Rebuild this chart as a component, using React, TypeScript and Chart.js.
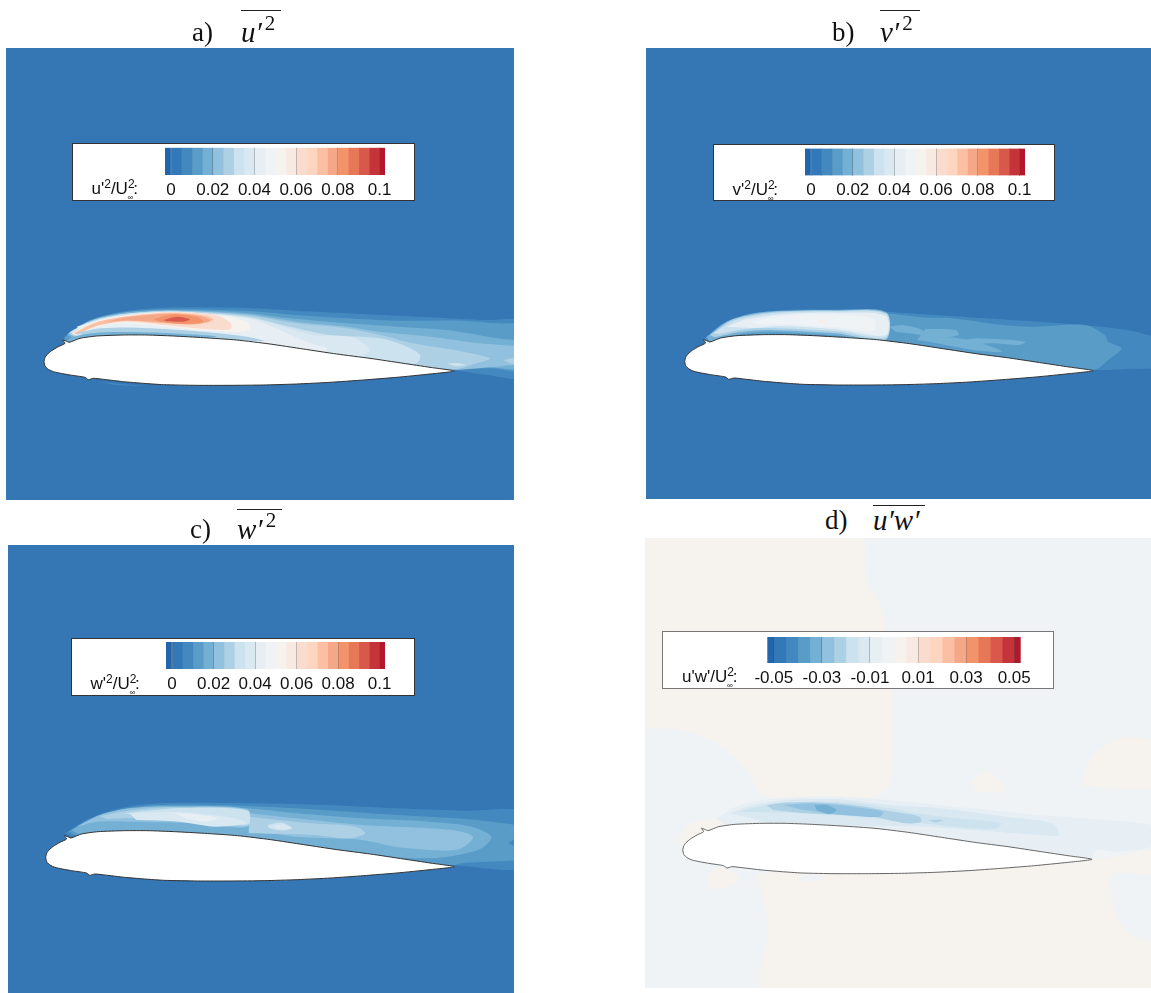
import React, { useEffect, useRef } from "react";
import { Chart, registerables } from "chart.js";

Chart.register(...registerables);

type Pts = number[][];

// Discrete contour levels, lowest to highest
const bandColors = ["#2166ac", "#3379b7", "#4388bf", "#5a9cc8", "#74b0d4", "#91c1df", "#add0e5", "#cce2ef", "#d9e8f1", "#e7eff5", "#f0f3f6", "#f6f2ee", "#f8eae3", "#fadccf", "#fed5bf", "#fbbfa4", "#f5a887", "#f3936a", "#e77857", "#d8594c", "#c4343a", "#b2182b"];
const positiveEdges = [-0.0029, 0, 0.005, 0.01, 0.015, 0.02, 0.025, 0.03, 0.035, 0.04, 0.045, 0.05, 0.055, 0.06, 0.065, 0.07, 0.075, 0.08, 0.085, 0.09, 0.095, 0.1, 0.1026];
const signedEdges = [-0.0527, -0.05, -0.045, -0.04, -0.035, -0.03, -0.025, -0.02, -0.015, -0.01, -0.005, 0, 0.005, 0.01, 0.015, 0.02, 0.025, 0.03, 0.035, 0.04, 0.045, 0.05, 0.0527];
const positiveTicks = [0, 0.02, 0.04, 0.06, 0.08, 0.1];
const signedTicks = [-0.05, -0.03, -0.01, 0.01, 0.03, 0.05];

// Coordinates in chord/1231 from the leading edge (x) and the trailing edge height (y)
const airfoil: Pts = [[0,28],[3,40],[10,50],[23,61],[43,73],[63,83],[56,93],[66,90],[76,86],[108,98],[158,105],[238,108],[308,108],[388,105],[478,100],[578,93],[678,81],[778,66],[878,51],[978,38],[1078,23],[1158,11],[1231,0],[1158,-9],[1058,-19],[958,-27],[858,-34],[758,-39],[658,-42],[558,-43],[458,-43],[358,-41],[298,-37],[238,-32],[178,-25],[148,-22],[133,-26],[123,-19],[78,-12],[50,-7],[28,-2],[13,5],[3,15],[0,28]];

// u'u' contours
const a1: Pts = [[58,98],[108,138],[188,168],[288,185],[408,191],[608,189],[758,181],[958,171],[1158,161],[1308,153],[1470,143],[1470,-17],[1308,-9],[1231,2],[700,30],[200,40],[60,60]];
const a2: Pts = [[63,103],[128,148],[218,173],[358,185],[598,181],[758,168],[908,158],[1058,151],[1258,151],[1358,143],[1470,133],[1470,3],[1338,8],[1231,4],[700,30],[200,40],[60,60]];
const a3: Pts = [[68,108],[138,151],[238,175],[378,183],[598,175],[738,158],[908,143],[1058,133],[1208,123],[1358,98],[1470,78],[1470,11],[1308,11],[1231,4],[700,30],[200,40]];
const a3b: Pts = [[73,113],[148,153],[258,173],[388,181],[608,170],[758,148],[908,133],[1008,118],[1158,103],[1308,83],[1410,75],[1470,70],[1470,20],[1410,18],[1298,8],[1231,4],[700,30],[200,40]];
const a4: Pts = [[73,113],[148,153],[258,173],[388,181],[608,168],[758,143],[908,128],[1008,108],[1108,83],[1258,58],[1338,38],[1298,23],[1231,6],[700,30],[200,40]];
const a4b: Pts = [[1378,33],[1470,48],[1470,23],[1400,22]];
const a5: Pts = [[78,118],[158,153],[258,173],[388,178],[608,163],[738,133],[858,108],[1008,98],[1088,73],[1128,48],[1118,23],[1058,28],[700,30],[200,40]];
const a6: Pts = [[88,123],[168,155],[268,171],[388,177],[608,161],[718,133],[808,108],[918,103],[958,83],[978,60],[920,35],[700,30],[200,40]];
const a6b: Pts = [[1208,22],[1240,24],[1265,18],[1235,14]];
const a7: Pts = [[98,133],[178,157],[278,170],[388,176],[608,158],[708,123],[758,100],[808,80],[850,65],[800,40],[700,40],[200,40]];
const a8: Pts = [[83,113],[158,148],[258,168],[388,178],[518,168],[608,148],[618,128],[598,118],[498,120],[358,133],[248,143],[158,133],[93,108]];
const a9: Pts = [[158,148],[258,166],[388,177],[518,167],[560,143],[560,125],[498,125],[358,138],[248,148],[170,140]];
const a10: Pts = [[88,113],[158,146],[258,165],[388,174],[488,165],[508,153],[458,140],[358,143],[248,150],[158,135],[100,110]];
const a11: Pts = [[178,147],[258,163],[388,172],[478,163],[498,150],[440,140],[340,147],[250,152]];
const a12: Pts = [[328,155],[388,170],[458,163],[478,148],[428,141],[348,148]];
const a13: Pts = [[358,153],[398,163],[438,155],[418,148],[368,149]];
const a14: Pts = [[100,115],[170,128],[280,130],[450,120],[600,104],[660,90],[500,95],[280,105],[130,100]];
const a15: Pts = [[63,88],[88,103],[158,115],[258,117],[408,112],[520,104],[458,98],[258,103],[108,93]];
const a16: Pts = [[158,-32],[228,-38],[298,-45],[218,-43]];

// v'v' contours
const b1: Pts = [[56,92],[116,142],[196,167],[296,182],[456,184],[606,177],[756,167],[956,154],[1136,142],[1336,122],[1396,107],[1450,90],[1450,17],[1330,5],[1226,2],[700,30],[200,40]];
const b2: Pts = [[61,97],[126,137],[206,165],[306,177],[456,180],[606,172],[716,160],[806,157],[956,137],[1056,132],[1206,137],[1266,107],[1276,87],[1316,67],[1276,32],[1246,7],[1226,2],[700,30],[200,40]];
const b3a: Pts = [[616,132],[656,137],[716,122],[721,107],[676,112],[636,117]];
const b3b: Pts = [[726,125],[816,122],[826,107],[756,97],[716,90],[700,92]];
const b3c: Pts = [[836,92],[886,97],[1026,87],[1006,77],[926,82],[856,77]];
const b3d: Pts = [[706,92],[800,100],[900,80],[956,57],[880,60]];
const b4: Pts = [[66,102],[126,147],[206,172],[296,180],[456,182],[608,175],[606,90],[456,106],[256,116],[156,108],[76,87]];
const b5: Pts = [[76,107],[136,150],[216,170],[296,178],[456,180],[608,172],[606,94],[456,112],[256,122],[166,116],[90,100]];
const b6: Pts = [[86,112],[146,150],[226,168],[306,176],[456,178],[608,170],[606,100],[456,118],[256,128],[176,124],[106,110]];
const b7: Pts = [[126,132],[186,154],[256,165],[336,172],[456,174],[606,164],[606,106],[456,124],[296,134],[206,128]];
const b8: Pts = [[200,146],[256,158],[356,168],[456,168],[570,155],[570,120],[456,130],[296,140],[236,138]];
const b9: Pts = [[400,150],[420,150],[425,145],[405,145]];

// w'w' contours
const c1: Pts = [[58,100],[123,140],[203,170],[303,188],[453,192],[653,190],[853,185],[1053,175],[1253,168],[1470,158],[1470,2],[1226,4],[700,30],[200,40]];
const c2: Pts = [[68,105],[143,145],[243,175],[353,185],[603,182],[753,175],[953,162],[1153,150],[1303,140],[1470,110],[1395,70],[1470,50],[1470,25],[1253,10],[1226,4],[700,30],[200,40]];
const c3: Pts = [[78,110],[153,150],[253,175],[373,182],[603,175],[753,160],[953,145],[1153,135],[1283,120],[1343,90],[1313,55],[1243,35],[1153,25],[1000,30],[700,30],[200,40]];
const c4: Pts = [[613,160],[753,145],[953,125],[1153,115],[1253,105],[1288,88],[1253,55],[1203,48],[1053,60],[953,80],[853,85],[753,90],[613,110]];
const c4f: Pts = [[93,120],[163,155],[253,175],[373,180],[608,172],[608,120],[453,130],[253,135],[153,135],[103,122]];
const c5: Pts = [[612,150],[803,130],[933,120],[963,100],[913,85],[803,95],[612,100]];
const c5f: Pts = [[163,152],[263,170],[383,178],[608,170],[608,123],[453,135],[263,145],[183,143]];
const c6: Pts = [[668,125],[713,132],[743,115],[713,108],[673,115]];
const c6f: Pts = [[233,160],[303,168],[420,176],[608,168],[610,127],[453,140],[303,150]];
const c7: Pts = [[253,160],[373,165],[453,160],[573,145],[603,130],[513,120],[403,135],[273,140]];
const c8: Pts = [[390,160],[440,158],[520,145],[480,135],[420,145]];
const c9: Pts = [[683,123],[713,127],[738,115],[700,112]];

// u'w' contours
const d0a: Pts = [[-120,970],[532,970],[552,838],[602,738],[632,488],[622,228],[572,188],[252,188],[192,268],[102,348],[-8,388],[-120,393]];
const d0b: Pts = [[867,233],[912,266],[952,238],[967,203],[882,203]];
const d0c: Pts = [[1197,223],[1232,308],[1312,363],[1420,348],[1420,218],[1272,213]];
const d0d: Pts = [[-13,58],[22,108],[102,118],[150,100],[100,60],[0,20]];
const d0e: Pts = [[222,-42],[1228,-2],[1420,23],[1420,-42],[1292,-47],[1302,-162],[1352,-232],[1420,-252],[1420,-400],[247,-400],[257,-212],[242,-112]];
const d0f: Pts = [[72,-52],[82,-87],[142,-82],[172,-52],[110,-20]];
const d0g: Pts = [[352,-62],[402,-67],[420,-50],[360,-45]];
const d1: Pts = [[102,123],[172,163],[292,183],[472,188],[672,173],[872,153],[1072,133],[1272,118],[1420,98],[1420,43],[1312,23],[1242,28],[1228,3],[700,30],[200,40]];
const d2: Pts = [[142,138],[212,163],[322,178],[472,180],[622,163],[772,153],[972,128],[1112,108],[1132,73],[1072,73],[872,88],[672,100],[300,100]];
const d3: Pts = [[172,143],[252,163],[372,173],[512,170],[622,153],[702,138],[822,123],[957,108],[942,93],[872,93],[722,108],[572,123],[372,138]];
const d4: Pts = [[252,163],[302,170],[392,171],[512,163],[602,148],[712,128],[717,113],[672,108],[572,128],[472,133],[372,138],[272,148]];
const d5: Pts = [[302,163],[392,168],[512,158],[602,143],[592,128],[522,130],[432,138],[352,150]];
const d6: Pts = [[397,163],[432,163],[462,148],[442,136],[402,148]];
const d7: Pts = [[737,118],[782,118],[762,110]];

const BG_BLUE = "#3576b5";
const c = bandColors;

const panels = [
  {
    frame: [6, 48, 508, 452], range: [-114, 1410, -387, 969], bg: BG_BLUE, outline: "#333",
    layers: [[a1,c[2]],[a2,c[3]],[a3,c[4]],[a3b,c[5]],[a4,c[6]],[a4b,c[6]],[a5,c[7]],[a6,c[8]],[a6b,c[7]],[a7,c[9]],[a8,c[11]],[a9,c[13]],[a10,c[15]],[a11,c[16]],[a12,c[17]],[a13,c[19]],[a14,c[6]],[a15,c[4]],[a16,c[2]]],
    box: [72, 143, 343, 58], bar: [165, 385, 147.7, 175], edges: positiveEdges, ticks: positiveTicks,
    sym: "u'", sym2: "2", labelLeft: 19.5, boxLine: "#333",
    title: ["a)", 192, 41, "u\u2032", 241, 281, 10],
  },
  {
    frame: [646, 48, 505, 451], range: [-116.6, 1405, -385, 968], bg: BG_BLUE, outline: "#333",
    layers: [[b1,c[2]],[b2,c[3]],[b3a,c[4]],[b3b,c[4]],[b3c,c[4]],[b3d,c[4]],[b4,c[4]],[b5,c[6]],[b6,c[7]],[b7,c[9]],[b8,c[10]],[b9,c[12]]],
    box: [713, 144, 342, 57], bar: [805, 1025, 148.5, 175.5], edges: positiveEdges, ticks: positiveTicks,
    sym: "v'", sym2: "2", labelLeft: 19.5, boxLine: "#333",
    title: ["b)", 832, 41, "v\u2032", 880, 920, 10],
  },
  {
    frame: [8, 545, 506, 448], range: [-113.6, 1411, -379, 965], bg: BG_BLUE, outline: "#333",
    layers: [[c1,c[2]],[c2,c[3]],[c3,c[4]],[c4,c[5]],[c4f,c[5]],[c5,c[6]],[c5f,c[6]],[c6,c[7]],[c6f,c[7]],[c7,c[8]],[c8,c[9]],[c9,c[8]]],
    box: [71, 638, 344, 58], bar: [166, 385, 642, 669], edges: positiveEdges, ticks: positiveTicks,
    sym: "w'", sym2: "2", labelLeft: 19.5, boxLine: "#333",
    title: ["c)", 190, 538, "w\u2032", 237, 282, 509],
  },
  {
    frame: [645, 538, 506, 450], range: [-113.4, 1408, -386, 964], bg: "#eff3f6", outline: "#666",
    layers: [[d0a,c[11]],[d0b,c[11]],[d0c,c[11]],[d0d,c[11]],[d0e,c[11]],[d0f,c[11]],[d0g,c[10]],[d1,c[9]],[d2,c[8]],[d3,c[7]],[d4,c[6]],[d5,c[5]],[d6,c[4]],[d7,c[6]]],
    box: [662, 631, 392, 58], bar: [767.3, 1020.7, 637, 663], edges: signedEdges, ticks: signedTicks,
    sym: "u'w'", sym2: "", labelLeft: 20, boxLine: "#777",
    title: ["d)", 825, 529, "u\u2032w\u2032", 873, 925, 505],
  },
];

function Field({ p }: { p: any }) {
  const ref = useRef<HTMLCanvasElement>(null);
  useEffect(() => {
    const [xMin, xMax, yMin, yMax] = p.range;
    const contourSets = p.layers.map(([pts, color]: any) => ({
      type: "scatter",
      data: pts.map(([x, y]: number[]) => ({ x, y })),
      showLine: true,
      fill: "shape",
      backgroundColor: color,
      borderWidth: 0,
      borderColor: color,
      pointRadius: 0,
      tension: 0.3,
    }));
    const outline = {
      type: "scatter",
      data: airfoil.map(([x, y]) => ({ x, y })),
      showLine: true,
      fill: "shape",
      backgroundColor: "#ffffff",
      borderColor: p.outline,
      borderWidth: 1,
      pointRadius: 0,
      tension: 0.2,
    };
    // Chart.js paints the first dataset last
    const datasets = [outline, ...contourSets.reverse()];
    const chart = new Chart(ref.current!, {
      type: "scatter",
      data: { datasets } as any,
      options: {
        animation: false,
        responsive: false,
        layout: { padding: 0 },
        plugins: { legend: { display: false }, tooltip: { enabled: false }, title: { display: false } },
        scales: {
          x: { type: "linear", min: xMin, max: xMax, display: false },
          y: { type: "linear", min: yMin, max: yMax, display: false },
        },
      },
    });
    return () => chart.destroy();
  }, []);
  const [l, t, w, h] = p.frame;
  return <canvas ref={ref} width={w} height={h} style={{ position: "absolute", left: l, top: t, width: w, height: h, background: p.bg, display: "block", filter: "blur(0.5px)" }} />;
}

function ColorBar({ p }: { p: any }) {
  const ref = useRef<HTMLCanvasElement>(null);
  const [l, t, w, h] = p.box;
  const [bl, br, bt, bb] = p.bar;
  useEffect(() => {
    const edges: number[] = p.edges;
    const datasets = bandColors.map((color, i) => ({
      data: [[edges[i], edges[i + 1]]],
      backgroundColor: color,
      borderWidth: 0,
      grouped: false,
      barPercentage: 1,
      categoryPercentage: 1,
    }));
    const chart = new Chart(ref.current!, {
      type: "bar",
      data: { labels: ["level"], datasets } as any,
      options: {
        animation: false,
        responsive: false,
        indexAxis: "y",
        layout: { padding: { left: bl - l, right: l + w - br, top: bt - t, bottom: 0 } },
        plugins: { legend: { display: false }, tooltip: { enabled: false } },
        scales: {
          y: { display: false },
          x: {
            type: "linear",
            min: edges[0],
            max: edges[edges.length - 1],
            afterBuildTicks: (s: any) => { s.ticks = p.ticks.map((value: number) => ({ value })); },
            afterFit: (s: any) => { s.height = t + h - bb; },
            border: { display: false },
            grid: { color: "rgba(70,70,70,0.3)", lineWidth: 1, z: 1, drawTicks: false },
            ticks: {
              autoSkip: false,
              maxRotation: 0,
              padding: 5,
              color: "#111",
              font: { family: "'Liberation Sans'", size: 17 },
              callback: (v: any) => String(v),
            },
          },
        },
      },
    });
    return () => chart.destroy();
  }, []);
  const small: React.CSSProperties = { position: "relative", lineHeight: 0 };
  return (
    <div style={{ position: "absolute", left: l, top: t, width: w, height: h, background: "#fff", outline: `1px solid ${p.boxLine}`, outlineOffset: -1 }}>
      <canvas ref={ref} width={w} height={h} style={{ position: "absolute", left: 0, top: 0, width: w, height: h }} />
      <span style={{ position: "absolute", left: p.labelLeft, top: 36, whiteSpace: "nowrap", font: "17px/20px 'Liberation Sans'", color: "#111" }}>
        {p.sym}
        {p.sym2 ? <span style={{ ...small, fontSize: 12, top: -6 }}>{p.sym2}</span> : null}/U
        <span style={{ ...small, fontSize: 12, top: -6 }}>2</span>
        <span style={{ ...small, fontSize: 8, top: 6, marginLeft: -7 }}>∞</span>
        <span>:</span>
      </span>
    </div>
  );
}

function Title({ p }: { p: any }) {
  const [label, lx, base, math, mx0, mx1, barY] = p.title;
  const serif = "'Liberation Serif'";
  return (
    <>
      <span style={{ position: "absolute", left: lx, top: base - 24, font: `27px/30px ${serif}`, color: "#111", whiteSpace: "nowrap" }}>{label}</span>
      <span style={{ position: "absolute", left: mx0, top: base - 24, font: `italic 29px/30px ${serif}`, color: "#111", whiteSpace: "nowrap" }}>
        {math}
        {p.sym2 ? <span style={{ position: "relative", top: -12, marginLeft: 3, fontSize: 21, lineHeight: 0, fontStyle: "normal" }}>{p.sym2}</span> : null}
      </span>
      <div style={{ position: "absolute", left: mx0, top: barY, width: mx1 - mx0, height: 1, background: "#222" }} />
    </>
  );
}

export default function App() {
  return (
    <div style={{ position: "absolute", left: 0, top: 0, width: 1151, height: 993, background: "#fff", overflow: "hidden" }}>
      {panels.map((p, i) => (
        <React.Fragment key={i}>
          <Field p={p} />
          <ColorBar p={p} />
          <Title p={p} />
        </React.Fragment>
      ))}
    </div>
  );
}
